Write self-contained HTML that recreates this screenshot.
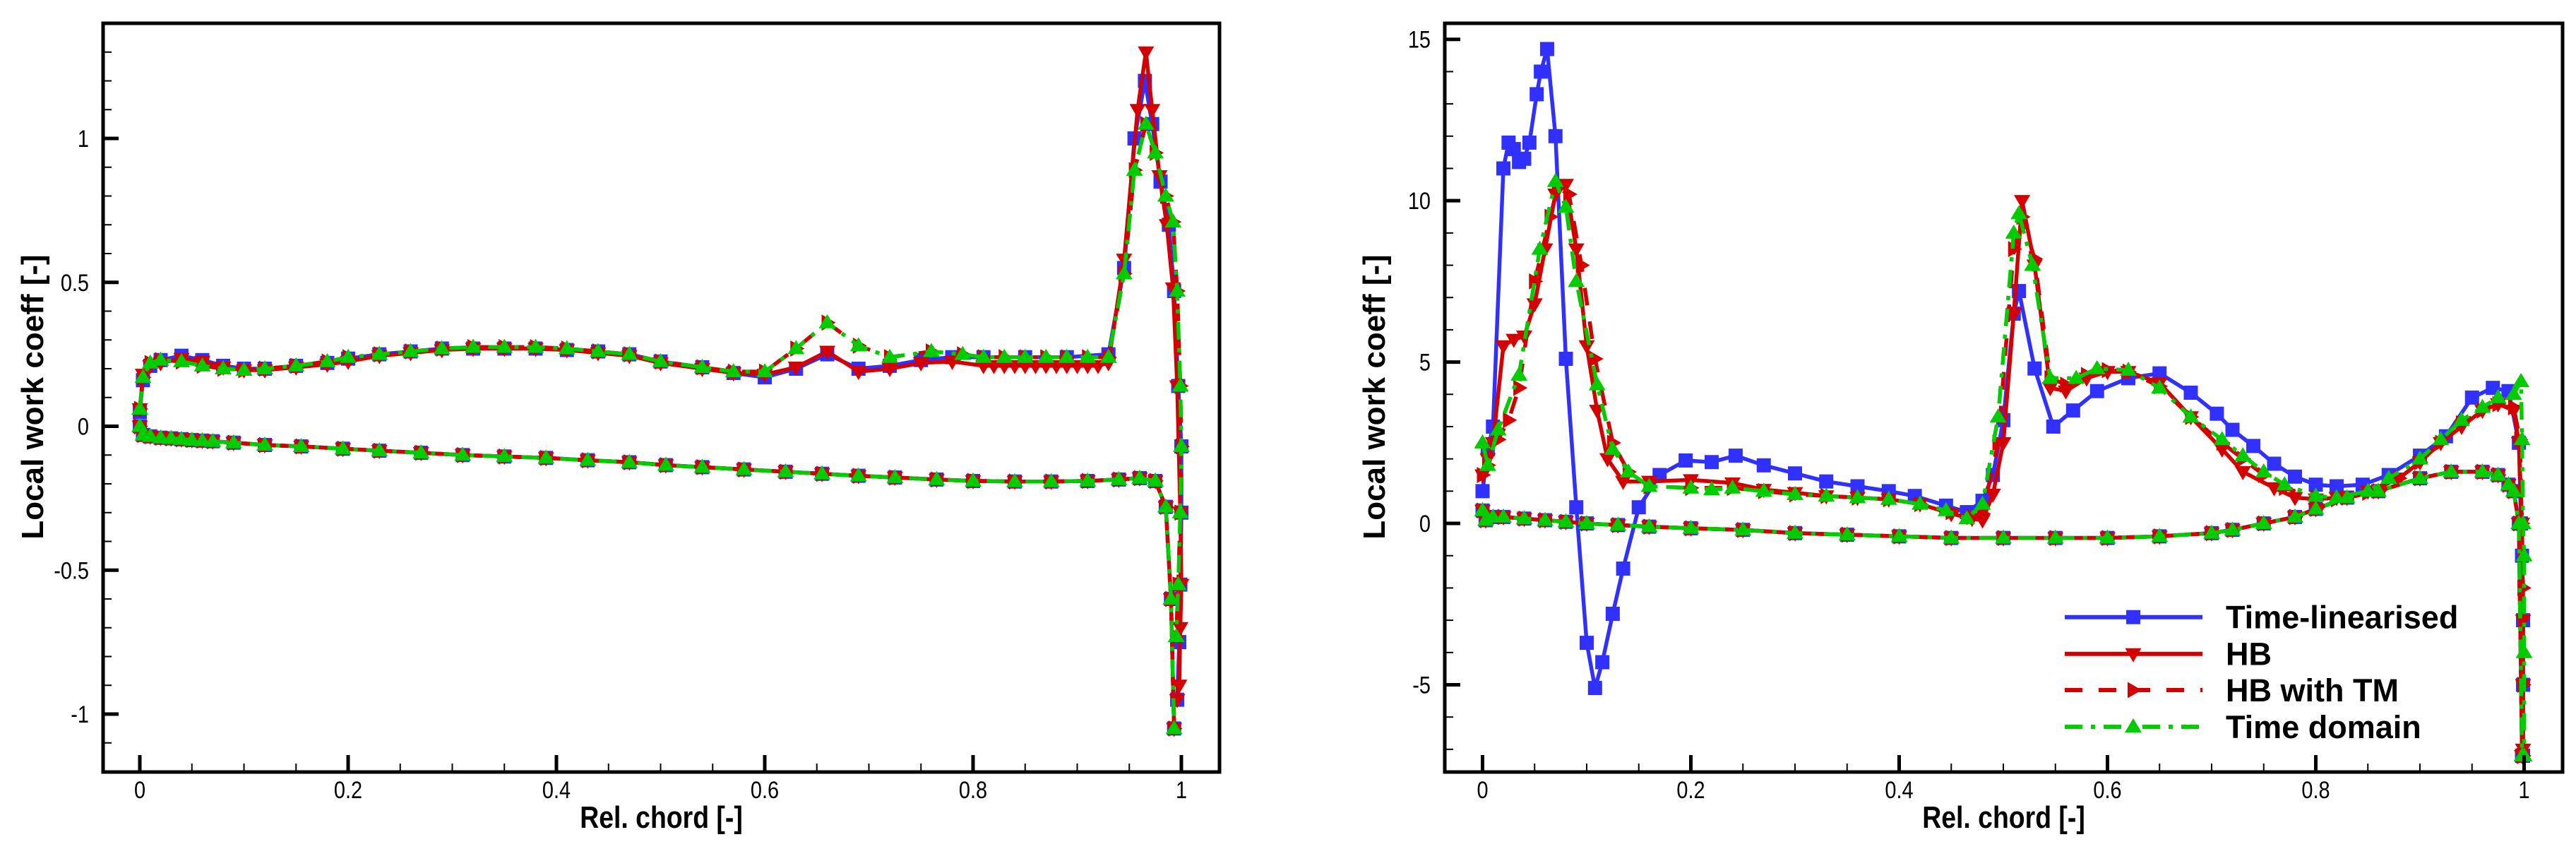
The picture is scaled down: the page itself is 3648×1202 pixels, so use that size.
<!DOCTYPE html>
<html><head><meta charset="utf-8">
<style>
html,body{margin:0;padding:0;background:#fff;}
svg{display:block;}
text{font-family:"Liberation Sans",Arial,sans-serif;fill:#000;}
</style></head>
<body>
<svg id="chart" width="3648" height="1202" viewBox="0 0 3648 1202" xmlns="http://www.w3.org/2000/svg">
<defs>
<clipPath id="clipL"><rect x="146" y="33" width="1581" height="1060"/></clipPath>
<clipPath id="clipR"><rect x="2046" y="33" width="1583" height="1060"/></clipPath>
</defs>
</svg>
<script>
// ---------- LEFT PLOT DATA ----------
const L_xTicks = [0,0.2,0.4,0.6,0.8,1];
const L_xTickLabels = ["0","0.2","0.4","0.6","0.8","1"];
const L_yTicks = [-1,-0.5,0,0.5,1];
const L_yTickLabels = ["-1","-0.5","0","0.5","1"];

const L_tlUpX = [0,0.003,0.01,0.02,0.04,0.06,0.08,0.1,0.12,0.15,0.18,0.2,0.23,0.26,0.29,0.32,0.35,0.38,0.41,0.44,0.47,0.5,0.54,0.57,0.6,0.63,0.66,0.69,0.72,0.75,0.78,0.81,0.85,0.89,0.93,0.945,0.955,0.965,0.972,0.98,0.988,0.993,0.997,1.0,1.0,0.999,0.998,0.996];
const L_tlUpY = [0.05,0.16,0.21,0.23,0.245,0.23,0.21,0.2,0.2,0.21,0.22,0.235,0.25,0.26,0.27,0.27,0.27,0.27,0.265,0.26,0.25,0.225,0.205,0.185,0.17,0.2,0.25,0.2,0.21,0.23,0.24,0.24,0.24,0.24,0.25,0.55,1.0,1.2,1.05,0.85,0.7,0.47,0.14,-0.07,-0.3,-0.55,-0.75,-0.95];
const L_hbUpX = [0,0.003,0.01,0.02,0.04,0.06,0.08,0.1,0.12,0.15,0.18,0.2,0.23,0.26,0.29,0.32,0.35,0.38,0.41,0.44,0.47,0.5,0.54,0.57,0.6,0.63,0.66,0.69,0.72,0.75,0.78,0.81,0.82,0.83,0.84,0.85,0.86,0.87,0.88,0.89,0.9,0.91,0.92,0.93,0.945,0.958,0.966,0.972,0.979,0.986,0.992,0.996,0.999,1.0,0.999,0.998,0.996];
const L_hbUpY = [0.06,0.18,0.21,0.22,0.235,0.225,0.205,0.195,0.195,0.205,0.215,0.225,0.245,0.255,0.265,0.27,0.27,0.27,0.265,0.255,0.245,0.22,0.2,0.185,0.18,0.205,0.26,0.19,0.2,0.22,0.225,0.21,0.21,0.21,0.21,0.21,0.21,0.21,0.21,0.21,0.21,0.21,0.21,0.22,0.58,1.1,1.3,1.1,0.87,0.7,0.48,0.14,-0.3,-0.55,-0.7,-0.9,-0.95];
const L_tdUpX = [0,0.003,0.01,0.02,0.04,0.06,0.08,0.1,0.12,0.15,0.18,0.2,0.23,0.26,0.29,0.32,0.35,0.38,0.41,0.44,0.47,0.5,0.54,0.57,0.6,0.63,0.66,0.69,0.72,0.76,0.79,0.81,0.83,0.85,0.87,0.89,0.91,0.93,0.945,0.955,0.966,0.975,0.985,0.992,0.996,0.999,1.0,0.999,0.997,0.995];
const L_tdUpY = [0.06,0.17,0.22,0.23,0.225,0.21,0.2,0.195,0.2,0.21,0.225,0.24,0.25,0.26,0.27,0.275,0.275,0.275,0.27,0.26,0.25,0.225,0.205,0.19,0.19,0.27,0.36,0.28,0.24,0.26,0.25,0.24,0.24,0.24,0.24,0.24,0.24,0.24,0.53,0.89,1.05,0.95,0.8,0.71,0.47,0.14,-0.07,-0.3,-0.55,-0.73];
const L_loX = [0,0.003,0.01,0.02,0.03,0.04,0.05,0.06,0.07,0.09,0.12,0.155,0.195,0.23,0.27,0.31,0.35,0.39,0.43,0.47,0.505,0.54,0.58,0.62,0.655,0.69,0.725,0.765,0.8,0.84,0.875,0.91,0.94,0.96,0.975,0.985,0.99,0.993];
const L_loY = [0,-0.03,-0.035,-0.04,-0.042,-0.045,-0.048,-0.05,-0.052,-0.057,-0.065,-0.07,-0.078,-0.085,-0.092,-0.1,-0.105,-0.11,-0.118,-0.125,-0.135,-0.142,-0.15,-0.158,-0.165,-0.172,-0.178,-0.185,-0.19,-0.192,-0.192,-0.19,-0.185,-0.18,-0.19,-0.28,-0.6,-1.05];

// ---------- RIGHT PLOT DATA ----------
const R_xTicks = [0,0.2,0.4,0.6,0.8,1];
const R_xTickLabels = ["0","0.2","0.4","0.6","0.8","1"];
const R_yTicks = [-5,0,5,10,15];
const R_yTickLabels = ["-5","0","5","10","15"];

const R_tlUpX = [0,0.005,0.01,0.02,0.025,0.03,0.035,0.04,0.045,0.052,0.056,0.062,0.07,0.08,0.09,0.1,0.108,0.115,0.125,0.135,0.15,0.17,0.195,0.22,0.243,0.27,0.3,0.33,0.36,0.39,0.415,0.445,0.465,0.48,0.49,0.5,0.51,0.515,0.53,0.548,0.567,0.59,0.62,0.65,0.68,0.705,0.72,0.74,0.76,0.78,0.8,0.82,0.845,0.87,0.9,0.925,0.95,0.97,0.985,0.995,0.997,0.998,0.999,0.999,0.999];
const R_tlUpY = [1,2.3,3,11,11.8,11.6,11.2,11.3,11.8,13.3,14,14.7,12,5.1,0.5,-3.7,-5.1,-4.3,-2.8,-1.4,0.5,1.5,1.95,1.9,2.1,1.8,1.55,1.3,1.15,1.0,0.85,0.55,0.35,0.7,1.5,3.2,6.5,7.2,4.8,3.0,3.5,4.1,4.5,4.65,4.05,3.4,2.9,2.4,1.85,1.45,1.2,1.15,1.2,1.5,2.1,2.7,3.9,4.2,4.1,2.5,0,-1,-3,-5,-7.2];
const R_hbUpX = [0,0.005,0.01,0.02,0.03,0.04,0.05,0.06,0.07,0.08,0.09,0.1,0.11,0.12,0.135,0.16,0.2,0.24,0.27,0.3,0.33,0.36,0.39,0.42,0.45,0.47,0.48,0.49,0.5,0.51,0.518,0.53,0.545,0.56,0.58,0.6,0.62,0.65,0.68,0.71,0.73,0.76,0.78,0.8,0.82,0.85,0.88,0.9,0.92,0.94,0.96,0.975,0.99,0.995,0.998,0.999,0.999,0.999];
const R_hbUpY = [1.5,2.0,2.5,5.5,5.7,5.8,6.8,8.5,10.2,10.5,8.5,5.5,3.5,2.0,1.3,1.3,1.35,1.25,1.05,0.95,0.85,0.8,0.75,0.6,0.3,0.15,0.1,0.9,2.5,6.5,10.0,8.0,4.2,4.1,4.5,4.7,4.7,4.35,3.3,2.3,1.6,1.1,0.8,0.75,0.8,1.0,1.4,1.9,2.5,3.0,3.5,3.7,3.5,2.5,0,-3,-5,-7];
const R_tmUpX = [0,0.005,0.015,0.025,0.035,0.05,0.065,0.072,0.083,0.095,0.108,0.125,0.14,0.16,0.2,0.24,0.27,0.3,0.33,0.36,0.39,0.42,0.45,0.47,0.48,0.495,0.51,0.518,0.53,0.545,0.56,0.58,0.6,0.62,0.65,0.68,0.71,0.73,0.75,0.77,0.8,0.82,0.85,0.88,0.9,0.92,0.94,0.96,0.975,0.99,0.996,0.998,0.999,0.999,0.999];
const R_tmUpY = [1.5,1.8,2.6,3.2,4.2,7.5,9.5,10.4,10.2,8.0,5.1,2.5,1.6,1.15,1.1,1.1,1.0,0.9,0.85,0.8,0.75,0.6,0.35,0.2,0.3,2.5,8.5,9.5,8.2,4.5,4.3,4.6,4.75,4.7,4.25,3.3,2.5,2.0,1.5,1.1,0.8,0.75,0.95,1.4,1.9,2.5,3.1,3.5,3.7,3.6,2.6,0,-2,-5,-7.2];
const R_tdUpX = [0,0.005,0.015,0.035,0.055,0.07,0.08,0.09,0.11,0.125,0.14,0.16,0.2,0.22,0.24,0.27,0.3,0.33,0.36,0.39,0.42,0.445,0.465,0.48,0.495,0.51,0.515,0.528,0.545,0.57,0.59,0.62,0.65,0.68,0.71,0.73,0.75,0.77,0.8,0.82,0.85,0.87,0.9,0.92,0.94,0.96,0.975,0.99,0.997,0.998,0.999,1.0,1.0,1.0];
const R_tdUpY = [2.5,1.8,2.9,4.6,8.5,10.6,9.8,7.5,4.3,2.3,1.6,1.15,1.1,1.05,1.1,1.0,0.9,0.85,0.8,0.75,0.6,0.4,0.15,0.6,3.3,9.0,9.6,8.0,4.5,4.5,4.8,4.75,4.2,3.3,2.6,2.1,1.6,1.2,0.85,0.8,1.0,1.4,2.0,2.6,3.2,3.6,3.9,4.0,4.4,2.6,0,-1,-4,-7.2];
const R_loX = [0,0.003,0.01,0.02,0.04,0.06,0.08,0.1,0.13,0.16,0.2,0.25,0.3,0.35,0.4,0.45,0.5,0.55,0.6,0.65,0.7,0.72,0.75,0.78,0.8,0.83,0.86,0.9,0.93,0.96,0.975,0.985,0.99,0.995,0.998];
const R_loY = [0.4,0.1,0.2,0.2,0.15,0.1,0.05,0,-0.05,-0.1,-0.15,-0.2,-0.3,-0.35,-0.4,-0.45,-0.45,-0.45,-0.45,-0.4,-0.3,-0.2,0.0,0.2,0.45,0.8,1.0,1.4,1.6,1.6,1.5,1.2,1.0,0.0,-7.2];

// ---------- SERIES LEGEND ----------
const seriesNames = ["Time-linearised","HB","HB with TM","Time domain"];

const NS = "http://www.w3.org/2000/svg";
const svg = document.getElementById('chart');
function mk(tag, attrs, parent){
  const e = document.createElementNS(NS, tag);
  for (const k in attrs) e.setAttribute(k, attrs[k]);
  (parent||svg).appendChild(e);
  return e;
}
const styles = [
  {color:"#3030ff", dash:"", marker:"square"},
  {color:"#d40000", dash:"", marker:"down"},
  {color:"#d40000", dash:"25 23", marker:"right"},
  {color:"#00cc00", dash:"25 12 6 12", marker:"up"}
];
function marker(g, type, cx, cy, color){
  const s = 10;
  let el;
  if (type==="square") el = mk('rect',{x:cx-s,y:cy-s,width:2*s,height:2*s,fill:color},g);
  else if (type==="down") el = mk('polygon',{points:`${cx-s*1.15},${cy-s*0.8} ${cx+s*1.15},${cy-s*0.8} ${cx},${cy+s*1.2}`,fill:color},g);
  else if (type==="right") el = mk('polygon',{points:`${cx-s*0.8},${cy-s*1.15} ${cx-s*0.8},${cy+s*1.15} ${cx+s*1.2},${cy}`,fill:color},g);
  else el = mk('polygon',{points:`${cx-s*1.2},${cy+s*0.8} ${cx+s*1.2},${cy+s*0.8} ${cx},${cy-s*1.2}`,fill:color},g);
  
  
}

function plot(cfg){
  const {id, fx0, fx1, fy0, fy1, x0px, x1px, yA, yApx, yB, yBpx} = cfg;
  const sx = v => x0px + v*(x1px-x0px);
  const sy = v => yApx + (v-yA)*(yBpx-yApx)/(yB-yA);
  const g = mk('g',{});
  
  
  // series
  const sg = mk('g',{'clip-path':`url(#${cfg.clip})`},g);
  
  
  cfg.series.forEach((s,i)=>{
    const st = styles[i];
    const ser = mk('g',{},sg);
    
    
    [[s.ux,s.uy],[s.lx,s.ly]].forEach(([xs,ys])=>{
      const pts = xs.map((x,k)=>sx(x).toFixed(1)+','+sy(ys[k]).toFixed(1)).join(' ');
      const pl = mk('polyline',{points:pts,fill:'none',stroke:st.color,'stroke-width':5.5,'stroke-dasharray':st.dash,'stroke-linejoin':'round'},ser);
      
      
      xs.forEach((x,k)=>marker(ser, st.marker, sx(x), sy(ys[k]), st.color));
    });
  });
  // frame
  const fr = mk('rect',{x:fx0,y:fy0,width:fx1-fx0,height:fy1-fy0,fill:'none',stroke:'#000','stroke-width':5},g);
  
  
  // x ticks
  for (let v=0; v<=1.0001; v+=0.05){
    const major = Math.abs(v*5-Math.round(v*5))<1e-6;
    const t = mk('line',{x1:sx(v),x2:sx(v),y1:fy1,y2:fy1-(major?24:12),stroke:'#000','stroke-width':major?5:2},g);
    
    
  }
  cfg.xTicks.forEach((v,i)=>{
    const t = mk('text',{x:0,y:0,'font-size':34,'text-anchor':'middle',transform:`translate(${sx(v)},1130) scale(0.85,1)`},g);
    t.textContent = cfg.xLabels[i];
    
    
  });
  // y ticks
  for (let v=cfg.minStart; v<=cfg.minEnd+1e-9; v+=cfg.minStep){
    const y = sy(v);
    if (y<fy0+3 || y>fy1-3) continue;
    const major = cfg.yTicks.some(t=>Math.abs(t-v)<1e-6);
    const t = mk('line',{x1:fx0,x2:fx0+(major?22:12),y1:y,y2:y,stroke:'#000','stroke-width':major?5:2},g);
    
    
  }
  cfg.yTicks.forEach((v,i)=>{
    const t = mk('text',{x:0,y:0,'font-size':34,'text-anchor':'end',transform:`translate(${fx0-20},${sy(v)+12}) scale(0.85,1)`},g);
    t.textContent = cfg.yLabels[i];
    
    
  });
  // titles
  const xt = mk('text',{x:0,y:0,'font-size':44,'font-weight':'bold','text-anchor':'middle',transform:`translate(${(fx0+fx1)/2+(cfg.xtOff||0)},1172) scale(0.85,1)`},g);
  xt.textContent = "Rel. chord [-]";
  
  
  const yt = mk('text',{x:0,y:0,'font-size':44,'font-weight':'bold','text-anchor':'middle',transform:`translate(${fx0-85},562) rotate(-90)`},g);
  yt.textContent = "Local work coeff [-]";
  
  
}

plot({id:'left', clip:'clipL', fx0:146, fx1:1727, fy0:33, fy1:1093, x0px:198, x1px:1673,
  yA:1, yApx:196, yB:-1, yBpx:1011, xTicks:L_xTicks, xLabels:L_xTickLabels, yTicks:L_yTicks, yLabels:L_yTickLabels,
  minStart:-1.2, minEnd:1.4, minStep:0.1, xtOff:0,
  series:[
    {ux:L_tlUpX,uy:L_tlUpY,lx:L_loX,ly:L_loY},
    {ux:L_hbUpX,uy:L_hbUpY,lx:L_loX,ly:L_loY},
    {ux:L_tdUpX,uy:L_tdUpY,lx:L_loX,ly:L_loY},
    {ux:L_tdUpX,uy:L_tdUpY,lx:L_loX,ly:L_loY}
  ]});
plot({id:'right', clip:'clipR', fx0:2046, fx1:3629, fy0:33, fy1:1093, x0px:2099.5, x1px:3574.5,
  yA:15, yApx:55.7, yB:-5, yBpx:969.5, xTicks:R_xTicks, xLabels:R_xTickLabels, yTicks:R_yTicks, yLabels:R_yTickLabels,
  minStart:-8, minEnd:15, minStep:1, xtOff:0,
  series:[
    {ux:R_tlUpX,uy:R_tlUpY,lx:R_loX,ly:R_loY},
    {ux:R_hbUpX,uy:R_hbUpY,lx:R_loX,ly:R_loY},
    {ux:R_tmUpX,uy:R_tmUpY,lx:R_loX,ly:R_loY},
    {ux:R_tdUpX,uy:R_tdUpY,lx:R_loX,ly:R_loY}
  ]});

// legend
const lg = mk('g',{});


const rowsY = [873.7, 925.7, 977, 1029];
seriesNames.forEach((n,i)=>{
  const st = styles[i];
  const e = mk('g',{},lg);
  
  
  const ln = mk('line',{x1:2924,x2:3119,y1:rowsY[i],y2:rowsY[i],stroke:st.color,'stroke-width':6,'stroke-dasharray':st.dash},e);
  
  
  marker(e, st.marker, 3021, rowsY[i], st.color);
  const t = mk('text',{x:3152,y:rowsY[i]+16,'font-size':45,'font-weight':'bold'},e);
  t.textContent = n;
  
  
});
</script>
</body></html>
